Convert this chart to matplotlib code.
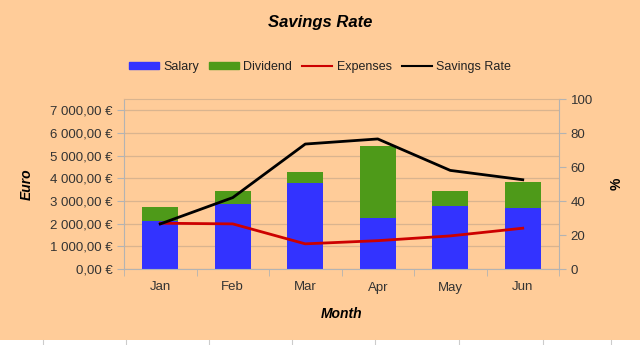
import matplotlib
matplotlib.use("Agg")
import matplotlib.pyplot as plt
from matplotlib.ticker import FuncFormatter, MultipleLocator, FixedLocator
from matplotlib.patches import Patch
from matplotlib.lines import Line2D

plt.rcParams['font.family'] = ['Liberation Sans', 'DejaVu Sans']

# data
months = ['Jan', 'Feb', 'Mar', 'Apr', 'May', 'Jun']
salary = [2130, 2860, 3790, 2240, 2790, 2690]
dividend = [620, 590, 470, 3170, 630, 1130]
expenses = [2020, 1990, 1110, 1250, 1460, 1800]
savings_rate = [26.5, 42, 73.5, 76.5, 58, 52.5]

bg = '#FFCC99'
grid_c = '#D9B48F'
axis_c = '#B3B3B3'

fig = plt.figure(figsize=(6.4, 3.45), dpi=100, facecolor=bg)
ax = fig.add_axes([124 / 640, 1 - 269 / 345, (559 - 124) / 640, (269 - 99) / 345])
ax.set_facecolor(bg)
x = list(range(len(months)))

ax.bar(x, salary, width=0.5, color='#3333FF', zorder=2)
ax.bar(x, dividend, width=0.5, bottom=salary, color='#4E9A19', zorder=2)
ax.plot(x, expenses, color='#CC0000', lw=2, zorder=3)

ax.set_xlim(-0.5, 5.5)
ax.set_ylim(0, 7500)
ax.yaxis.set_major_locator(FixedLocator(range(0, 7001, 1000)))


def euro(v, pos):
    s = '{:,.2f}'.format(v).replace(',', ' ').replace('.', ',')
    return s + ' €'


ax.yaxis.set_major_formatter(FuncFormatter(euro))
ax.grid(axis='y', color=grid_c, lw=0.9, zorder=0)
ax.set_xticks(x)
ax.set_xticklabels(months)
ax.xaxis.set_minor_locator(FixedLocator([i - 0.5 for i in range(7)]))
ax.tick_params(axis='x', which='major', length=0, pad=9)
ax.tick_params(axis='x', which='minor', length=5, color=axis_c)
ax.tick_params(axis='y', length=5, color=axis_c, pad=3)
ax.tick_params(labelsize=9.5, labelcolor='#333333')

for s in ['left', 'bottom', 'right']:
    ax.spines[s].set_color(axis_c)
ax.spines['top'].set_color(grid_c)

ax2 = ax.twinx()
ax2.plot(x, savings_rate, color='black', lw=2, zorder=4)
ax2.set_ylim(0, 100)
ax2.yaxis.set_major_locator(MultipleLocator(20))
ax2.tick_params(axis='y', length=5, color=axis_c, labelsize=9.5, labelcolor='#333333')
for s in ax2.spines.values():
    s.set_visible(False)

ax.set_ylabel('Euro', fontsize=10, fontweight='bold', fontstyle='italic', labelpad=12)
ax2.set_ylabel('%', fontsize=10, fontweight='bold', labelpad=12)
ax.set_xlabel('Month', fontsize=10, fontweight='bold', fontstyle='italic', labelpad=10)

fig.text(0.5, 1 - 22 / 345, 'Savings Rate', ha='center', va='center',
         fontsize=12, fontweight='bold', fontstyle='italic')

handles = [
    Patch(color='#3333FF'),
    Patch(color='#4E9A19'),
    Line2D([], [], color='#CC0000', lw=1.5),
    Line2D([], [], color='black', lw=1.5),
]
fig.legend(handles, ['Salary', 'Dividend', 'Expenses', 'Savings Rate'],
           loc='center', bbox_to_anchor=(0.5, 1 - 67 / 345), ncol=4,
           frameon=False, fontsize=9, handlelength=2.4, handleheight=0.55,
           handletextpad=0.35, columnspacing=0.8, labelcolor='#222222')

# spreadsheet strip at the bottom
fig.patches.append(plt.Rectangle((0, 0), 1, 5 / 345, transform=fig.transFigure,
                                 facecolor='white', edgecolor='none'))
for gx in [43, 126, 209, 292, 375, 459, 543, 611]:
    fig.lines.append(Line2D([gx / 640, gx / 640], [0, 5 / 345], transform=fig.transFigure,
                            color='#CCCCCC', lw=0.8))

fig.savefig('out.png', dpi=100, facecolor=bg)
